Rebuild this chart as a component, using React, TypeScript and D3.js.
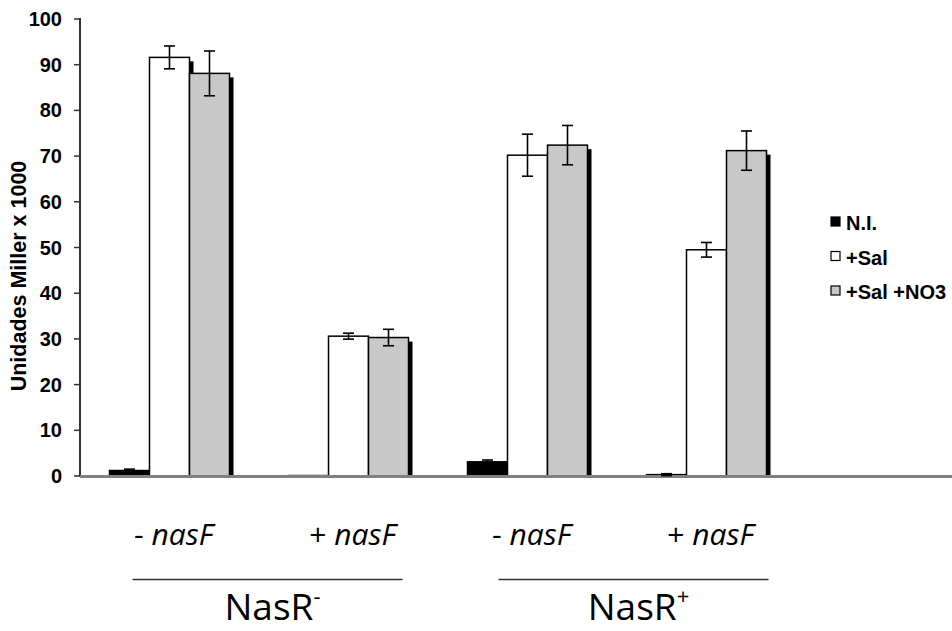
import React from "react";
import * as d3 from "d3";

const categories = ["- nasF", "+ nasF", "- nasF ", "+ nasF "];
const catPrefix = ["- ", "+ ", "- ", "+ "];
const series = ["N.I.", "+Sal", "+Sal +NO3"];
const niValues = [1.2, 0.1, 3.1, 0.3];
const salValues = [91.6, 30.6, 70.2, 49.5];
const salNo3Values = [88.1, 30.3, 72.4, 71.2];
const niErr = [0.3, 0, 0.4, 0.2];
const salErr = [2.5, 0.65, 4.6, 1.6];
const salNo3Err = [4.9, 1.8, 4.3, 4.3];
const yTicks = [0, 10, 20, 30, 40, 50, 60, 70, 80, 90, 100];
const strains = ["NasR", "NasR"];
const strainSup = ["-", "+"];
const seriesColors = ["#000000", "#ffffff", "#c8c8c8"];

export default function App() {
  const W = 952, H = 631;
  const x = d3.scaleBand<string>().domain(categories).range([80, 796]).paddingInner(0.3296).paddingOuter(0.1648);
  const xs = d3.scaleBand<string>().domain(series).range([0, x.bandwidth()]);
  const y = d3.scaleLinear().domain([0, 100]).range([476, 19]);
  const vals = [niValues, salValues, salNo3Values];
  const errs = [niErr, salErr, salNo3Err];
  const font = "Liberation Sans, Arial, sans-serif";
  const catFont = "'Open Sans', 'Noto Sans', sans-serif";

  const bars: React.ReactNode[] = [];
  categories.forEach((c, ci) => {
    series.forEach((s, si) => {
      const v = vals[si][ci];
      const bx = (x(c) as number) + (xs(s) as number);
      const bw = xs.bandwidth();
      const top = y(v);
      bars.push(
        <g key={`b${ci}-${si}`}>
          <rect x={bx + 4} y={Math.min(top + 4, y(0))} width={bw} height={Math.max(0, y(0) - top - 4)} fill="#000" />
          <rect x={bx} y={top} width={bw} height={y(0) - top} fill={seriesColors[si]} stroke="#000" strokeWidth={1.5} />
        </g>
      );
    });
  });
  const errBars: React.ReactNode[] = [];
  categories.forEach((c, ci) => {
    series.forEach((s, si) => {
      const e = errs[si][ci];
      if (e <= 0) return;
      const v = vals[si][ci];
      const cx = (x(c) as number) + (xs(s) as number) + xs.bandwidth() / 2;
      errBars.push(
        <g key={`e${ci}-${si}`} stroke="#000" strokeWidth={1.6}>
          <line x1={cx} x2={cx} y1={y(v + e)} y2={y(v - e)} />
          <line x1={cx - 5.5} x2={cx + 5.5} y1={y(v + e)} y2={y(v + e)} />
          <line x1={cx - 5.5} x2={cx + 5.5} y1={y(v - e)} y2={y(v - e)} />
        </g>
      );
    });
  });

  const groupOffsets = [8.5, 16.5];
  const groups = [0, 1].map((g) => {
    const a = x(categories[g * 2]) as number;
    const b = (x(categories[g * 2 + 1]) as number) + x.bandwidth();
    const c = (a + b) / 2 + groupOffsets[g];
    return { c, half: 135 };
  });

  return (
    <svg width={W} height={H} style={{ position: "absolute", left: 0, top: 0, background: "#fff" }}>
      <rect width={W} height={H} fill="#fff" />
      {/* y axis */}
      <line x1={80} x2={80} y1={18} y2={477} stroke="#333" strokeWidth={2} />
      {yTicks.map((t) => (
        <g key={t}>
          <line x1={74} x2={80} y1={y(t)} y2={y(t)} stroke="#333" strokeWidth={1.5} />
          <text x={62} y={y(t) + 7} textAnchor="end" fontFamily={font} fontWeight="bold" fontSize={20} fill="#000">
            {t}
          </text>
        </g>
      ))}
      <text
        transform={`translate(26,276) rotate(-90)`}
        textAnchor="middle"
        fontFamily={font}
        fontWeight="bold"
        fontSize={21.5}
        fill="#000"
      >
        Unidades Miller x 1000
      </text>
      {bars}
      {/* x axis */}
      <line x1={80} x2={952} y1={476.5} y2={476.5} stroke="#808080" strokeWidth={3} />
      {errBars}
      {/* legend */}
      {series.map((s, i) => (
        <g key={s}>
          <rect x={831} y={217 + i * 34.5} width={9} height={9} fill={seriesColors[i]} stroke="#000" strokeWidth={1.2} />
          <text x={846} y={230 + i * 34.5} fontFamily={font} fontWeight="bold" fontSize={20} fill="#000">
            {s}
          </text>
        </g>
      ))}
      {/* category labels */}
      {categories.map((c, ci) => (
        <text
          key={c}
          x={(x(c) as number) + x.bandwidth() / 2 + 4}
          y={545}
          textAnchor="middle"
          fontFamily={catFont}
          fontSize={30}
          fill="#000"
        >
          <tspan>{catPrefix[ci]}</tspan>
          <tspan fontStyle="italic">nasF</tspan>
        </text>
      ))}
      {groups.map((g, gi) => (
        <g key={gi}>
          <line x1={g.c - g.half} x2={g.c + g.half} y1={579.5} y2={579.5} stroke="#333" strokeWidth={1.6} />
          <text x={g.c + 5} y={620} textAnchor="middle" fontFamily={catFont} fontSize={37} fill="#000">
            {strains[gi]}
            <tspan dy={-16} fontSize={22}>
              {strainSup[gi]}
            </tspan>
          </text>
        </g>
      ))}
    </svg>
  );
}
